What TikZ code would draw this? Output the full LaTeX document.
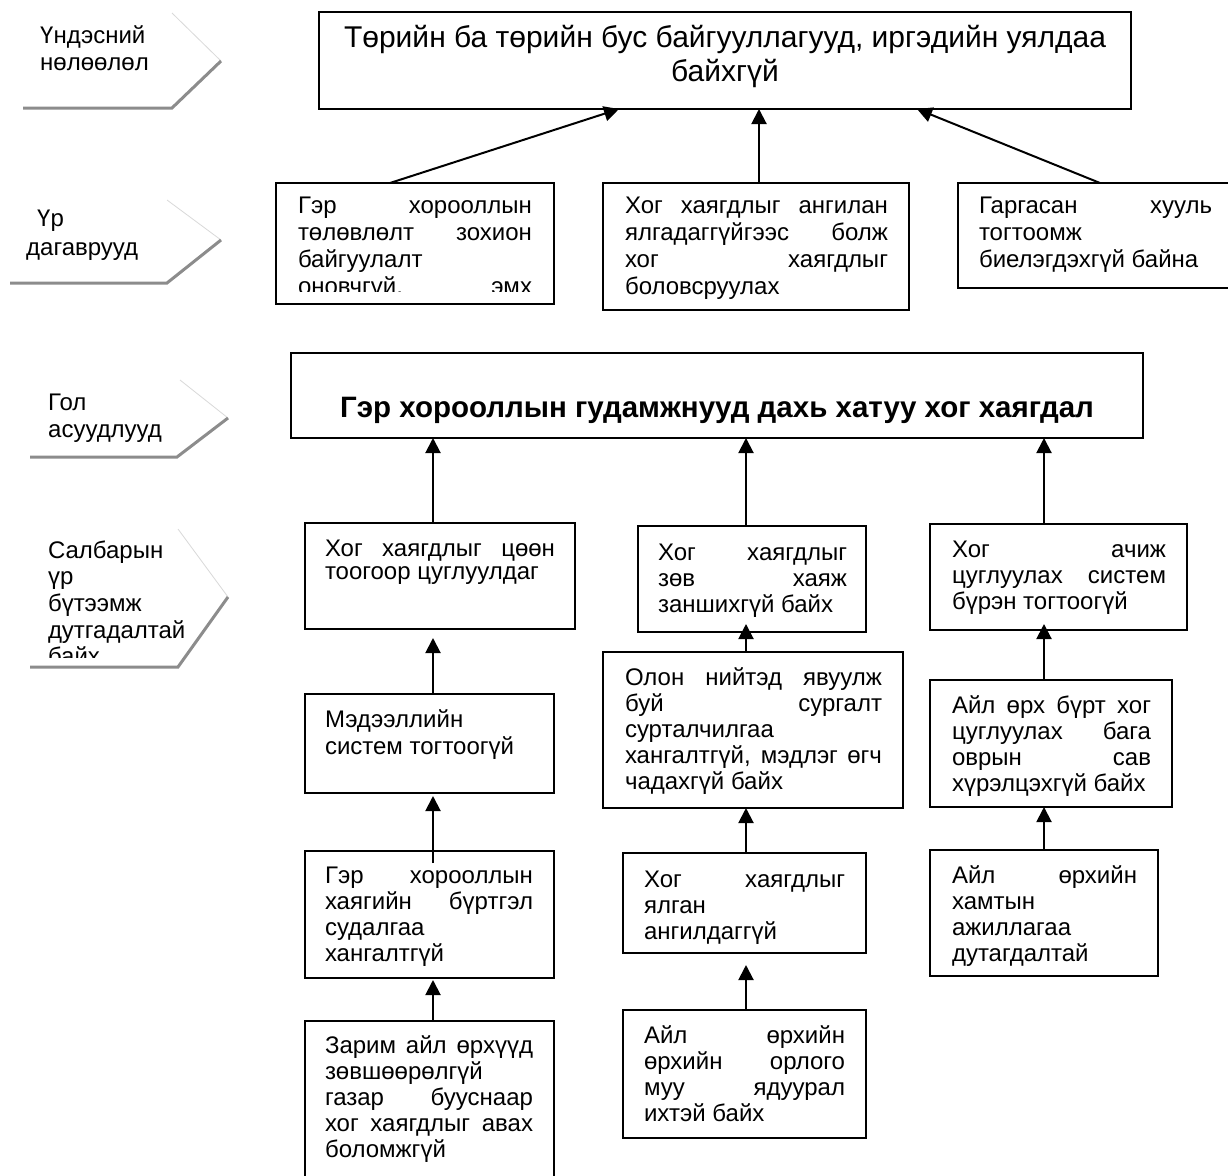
\documentclass[tikz,border=0pt]{standalone}
\usepackage{fontspec}
\setmainfont{Liberation Sans}
\usetikzlibrary{arrows.meta,calc}
\newcommand\jl[1]{\makebox[\linewidth][s]{#1}}
\newcommand\tbox[2]{\parbox[t]{#1}{\fontsize{24}{26}\selectfont\raggedright #2}}
\tikzset{
  box/.style={draw, line width=2pt, anchor=north west, inner sep=0pt, outer sep=0pt},
  txt/.style={anchor=base west, inner sep=0pt, outer sep=0pt},
  arr/.style={line width=2pt, -{Triangle[width=15pt,length=15pt]}},
  chev/.style={draw=black!45, line width=3pt},
  chevf/.style={draw=black!15, line width=0.8pt},
  side/.style={anchor=base west, inner sep=0pt, font=\fontsize{24}{26}\selectfont},
}
\begin{document}
\begin{tikzpicture}[x=1pt,y=-1pt]
\useasboundingbox (0,0) rectangle (1228,1175);
\clip (0,0) rectangle (1228,1175);
\fill[white] (0,0) rectangle (1228,1175);

% ---- side chevrons ----
\draw[chevf] (172,13) -- (221,61);
\draw[chev] (23,108) -- (172,108) -- (221,61);
\node[side] (s1a) at (40,43) {Үндэсний};
\node[side] (s1b) at (40,70) {нөлөөлөл};

\draw[chevf] (167,200) -- (221,240);
\draw[chev] (10,283) -- (167,283) -- (221,240);
\node[side] (s2a) at (37,226) {Үр};
\node[side] (s2b) at (26,255) {дагаврууд};

\draw[chevf] (180,380) -- (228,418);
\draw[chev] (30,457) -- (177,457) -- (228,418);
\node[side] (s3a) at (48,410) {Гол};
\node[side] (s3b) at (48,437) {асуудлууд};

\draw[chevf] (178,529) -- (228,597);
\draw[chev] (30,667) -- (178,667) -- (228,597);
\begin{scope}
\clip (0,520) rectangle (230,657);
\node[txt] (s4) at (48,558) {\parbox[t]{200pt}{\fontsize{24}{26.7}\selectfont\raggedright Салбарын\\ үр\\ бүтээмж\\ дутгадалтай\\ байх}};
\end{scope}

% ---- top box ----
\node[box, minimum width=812pt, minimum height=97pt] (T) at (319,12) {};
\node[anchor=base, inner sep=0pt] (Tt) at (725,47) {\parbox[t]{800pt}{\fontsize{30}{34}\selectfont\centering Төрийн ба төрийн бус байгууллагууд, иргэдийн уялдаа\\ байхгүй}};

% ---- consequences ----
\node[box, minimum width=278pt, minimum height=121pt] (R1) at (276,183) {};
\begin{scope}
\clip (276,183) rectangle (554,291);
\node[txt] (R1t) at (298,213) {\tbox{234pt}{\fontsize{24}{27}\selectfont\jl{Гэр хорооллын}\\ \jl{төлөвлөлт зохион}\\ байгуулалт\\ \jl{оновчгүй, эмх}}};
\end{scope}
\node[box, minimum width=306pt, minimum height=127pt] (R2) at (603,183) {};
\node[txt] (R2t) at (625,213) {\tbox{263pt}{\fontsize{24}{27}\selectfont\jl{Хог хаягдлыг ангилан}\\ \jl{ялгадаггүйгээс болж}\\ \jl{хог хаягдлыг}\\ боловсруулах}};
\node[box, minimum width=275pt, minimum height=105pt] (R3) at (958,183) {};
\node[txt] (R3t) at (979,213) {\tbox{233pt}{\fontsize{24}{27}\selectfont\jl{Гаргасан хууль}\\ тогтоомж\\ биелэгдэхгүй байна}};

\draw[arr] ([xshift=-25pt]R1.north) -- ([xshift=-106pt]T.south);
\draw[arr] ([xshift=3pt]R2.north) -- ([xshift=3pt]R2.north |- T.south);
\draw[arr] ([xshift=4.5pt]R3.north) -- ([xshift=192pt]T.south);

% ---- main problem ----
\node[box, minimum width=852pt, minimum height=85pt] (M) at (291,353) {};
\node[anchor=base, inner sep=0pt, font=\bfseries\fontsize{29.5}{30}\selectfont] (Mt) at (717,417) {Гэр хорооллын гудамжнууд дахь хатуу хог хаягдал};

% ---- left column ----
\node[box, minimum width=270pt, minimum height=106pt] (A1) at (305,523) {};
\node[txt] (A1t) at (325,556) {\tbox{230pt}{\fontsize{24}{23}\selectfont\jl{Хог хаягдлыг цөөн}\\ тоогоор цуглуулдаг}};
\node[box, minimum width=249pt, minimum height=99pt] (A2) at (305,694) {};
\node[txt] (A2t) at (325,727) {\tbox{208pt}{\fontsize{24}{27}\selectfont Мэдээллийн\\ систем тогтоогүй}};
\node[box, minimum width=249pt, minimum height=127pt] (A3) at (305,851) {};
\node[txt] (A3t) at (325,883) {\tbox{208pt}{\jl{Гэр хорооллын}\\ \jl{хаягийн бүртгэл}\\ судалгаа\\ хангалтгүй}};
\node[box, minimum width=249pt, minimum height=170pt] (A4) at (305,1021) {};
\node[txt] (A4t) at (325,1053) {\tbox{208pt}{\jl{Зарим айл өрхүүд}\\ зөвшөөрөлгүй\\ \jl{газар бууснаар}\\ \jl{хог хаягдлыг авах}\\ боломжгүй}};

\draw[arr] ([xshift=-7pt]A1.north) -- ([xshift=-7pt]A1.north |- M.south);
\draw[arr] ([xshift=3.5pt]A2.north) -- ([xshift=-7pt,yshift=-9pt]A1.south);
\draw[arr] ([xshift=3.5pt,yshift=-12pt]A3.north) -- ([xshift=3.5pt,yshift=-3pt]A2.south);
\draw[arr] ([xshift=3.5pt]A4.north) -- ([xshift=3.5pt,yshift=-2pt]A3.south);

% ---- middle column ----
\node[box, minimum width=228pt, minimum height=106pt] (B1) at (638,526) {};
\node[txt] (B1t) at (658,560) {\tbox{189pt}{\jl{Хог хаягдлыг}\\ \jl{зөв хаяж}\\ заншихгүй байх}};
\node[box, minimum width=300pt, minimum height=156pt] (B2) at (603,652) {};
\node[txt] (B2t) at (625,685) {\tbox{257pt}{\jl{Олон нийтэд явуулж}\\ \jl{буй сургалт}\\ сурталчилгаа\\ \jl{хангалтгүй, мэдлэг өгч}\\ чадахгүй байх}};
\node[box, minimum width=243pt, minimum height=100pt] (B3) at (623,853) {};
\node[txt] (B3t) at (644,887) {\tbox{201pt}{\jl{Хог хаягдлыг}\\ ялган\\ ангилдаггүй}};
\node[box, minimum width=243pt, minimum height=128pt] (B4) at (623,1010) {};
\node[txt] (B4t) at (644,1043) {\tbox{201pt}{\jl{Айл өрхийн}\\ \jl{өрхийн орлого}\\ \jl{муу ядуурал}\\ ихтэй байх}};

\draw[arr] ([xshift=-6pt]B1.north) -- ([xshift=-6pt]B1.north |- M.south);
\draw[arr] ([xshift=-7pt]B2.north) -- ([xshift=-6pt,yshift=8pt]B1.south);
\draw[arr] ([xshift=1.5pt]B3.north) -- ([xshift=-7pt]B2.south);
\draw[arr] ([xshift=1.5pt]B4.north) -- ([xshift=1.5pt,yshift=-12pt]B3.south);

% ---- right column ----
\node[box, minimum width=257pt, minimum height=106pt] (C1) at (930,524) {};
\node[txt] (C1t) at (952,557) {\tbox{214pt}{\jl{Хог ачиж}\\ \jl{цуглуулах систем}\\ бүрэн тогтоогүй}};
\node[box, minimum width=242pt, minimum height=127pt] (C2) at (930,680) {};
\node[txt] (C2t) at (952,713) {\tbox{199pt}{\jl{Айл өрх бүрт хог}\\ \jl{цуглуулах бага}\\ \jl{оврын сав}\\ хүрэлцэхгүй байх}};
\node[box, minimum width=228pt, minimum height=126pt] (C3) at (930,850) {};
\node[txt] (C3t) at (952,883) {\tbox{185pt}{\jl{Айл өрхийн}\\ хамтын\\ ажиллагаа\\ дутагдалтай}};

\draw[arr] ([xshift=-14.5pt]C1.north) -- ([xshift=-14.5pt]C1.north |- M.south);
\draw[arr] ([xshift=-7pt]C2.north) -- ([xshift=-14.5pt,yshift=6pt]C1.south);
\draw[arr] (C3.north) -- ([xshift=-7pt]C2.south);
\end{tikzpicture}
\end{document}
